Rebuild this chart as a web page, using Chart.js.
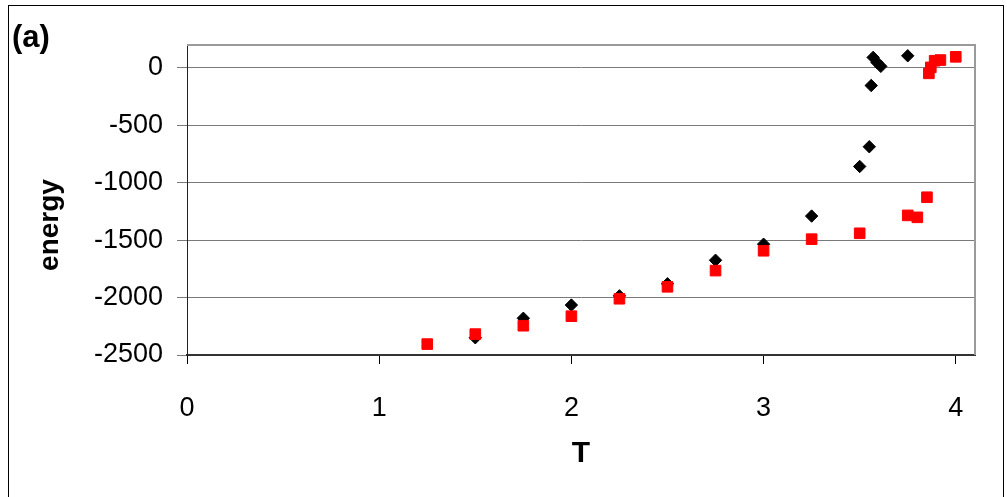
<!DOCTYPE html>
<html>
<head>
<meta charset="utf-8">
<script src="https://cdn.jsdelivr.net/npm/chart.js@4"></script>
<style>
  body { margin: 0; background: #fff; }
  canvas { display: block; }
</style>
</head>
<body>
<canvas id="myChart" width="1007" height="497"></canvas>
<script>
// black diamonds
const tBlack = [1.5, 1.75, 2.0, 2.25, 2.5, 2.75, 3.0, 3.25, 3.5, 3.55, 3.56, 3.57, 3.59, 3.61, 3.75];
const eBlack = [-2350, -2180, -2065, -1985, -1880, -1675, -1535, -1290, -858, -686, -153, 92, 48, 14, 106];
// red squares
const tRed = [1.25, 1.5, 1.75, 2.0, 2.25, 2.5, 2.75, 3.0, 3.25, 3.5, 3.75, 3.8, 3.85, 3.86, 3.87, 3.89, 3.92, 4.0];
const eRed = [-2405, -2318, -2245, -2162, -2010, -1906, -1765, -1592, -1491, -1440, -1284, -1301, -1126, -47, 5, 63, 69, 97];

const xTicks = [0, 1, 2, 3, 4];
const yTicks = [-2500, -2000, -1500, -1000, -500, 0];

const fontFam = "'Liberation Sans', Arial, sans-serif";

function toPoints(xs, ys) {
  return xs.map((x, i) => ({ x: x, y: ys[i] }));
}

// frame, plot border, extra labels
const extras = {
  id: "extras",
  afterDraw(chart) {
    const ctx = chart.ctx;
    const a = chart.chartArea;
    ctx.save();
    ctx.strokeStyle = "#000";
    ctx.lineWidth = 1;
    ctx.strokeRect(8.5, 5.5, 995, 520);

    ctx.strokeStyle = "#9a9a9a";
    ctx.lineWidth = 2;
    ctx.beginPath();
    ctx.moveTo(a.left, a.top);
    ctx.lineTo(a.right, a.top);
    ctx.lineTo(a.right, a.bottom);
    ctx.stroke();

    ctx.fillStyle = "#000";
    ctx.font = "bold 31px " + fontFam;
    ctx.textAlign = "left";
    ctx.textBaseline = "alphabetic";
    ctx.fillText("(a)", 12, 47);

    ctx.font = "bold 28px " + fontFam;
    ctx.translate(58, 225);
    ctx.rotate(-Math.PI / 2);
    ctx.textAlign = "center";
    ctx.fillText("energy", 0, 0);
    ctx.restore();
  }
};

new Chart(document.getElementById("myChart").getContext("2d"), {
  type: "scatter",
  data: {
    datasets: [
      {
        label: "red",
        data: toPoints(tRed, eRed),
        pointStyle: "rect",
        pointRadius: 7.5,
        pointBackgroundColor: "#ff0000",
        pointBorderColor: "#ff0000",
        pointBorderWidth: 1
      },
      {
        label: "black",
        data: toPoints(tBlack, eBlack),
        pointStyle: "rectRot",
        pointRadius: 6.2,
        pointBackgroundColor: "#000",
        pointBorderColor: "#000",
        pointBorderWidth: 1
      }
    ]
  },
  options: {
    responsive: false,
    animation: false,
    layout: { padding: { left: 0, top: 45, right: 32, bottom: 0 } },
    plugins: {
      legend: { display: false },
      tooltip: { enabled: false }
    },
    scales: {
      x: {
        type: "linear",
        min: 0,
        max: 4.1,
        afterFit(scale) { scale.height = 142; },
        afterBuildTicks(scale) { scale.ticks = xTicks.map(v => ({ value: v })); },
        grid: {
          drawOnChartArea: false,
          drawTicks: true,
          tickLength: 9,
          color: "#000"
        },
        border: { color: "#333", width: 2 },
        ticks: {
          padding: 28,
          color: "#000",
          font: { family: fontFam, size: 27 },
          maxRotation: 0,
          callback: v => String(v)
        },
        title: {
          display: true,
          text: "T",
          color: "#000",
          font: { family: fontFam, size: 30, weight: "bold", lineHeight: 1.2 },
          padding: { top: 0, bottom: 25 }
        }
      },
      y: {
        type: "linear",
        min: -2500,
        max: 200,
        afterFit(scale) { scale.width = 187; },
        afterBuildTicks(scale) { scale.ticks = yTicks.map(v => ({ value: v })); },
        grid: {
          color: "#7a7a7a",
          lineWidth: 1,
          drawTicks: true,
          tickLength: 10
        },
        border: { color: "#222", width: 1 },
        ticks: {
          padding: 14,
          color: "#000",
          font: { family: fontFam, size: 27 },
          callback: v => String(v)
        }
      }
    }
  },
  plugins: [extras]
});
</script>
</body>
</html>
